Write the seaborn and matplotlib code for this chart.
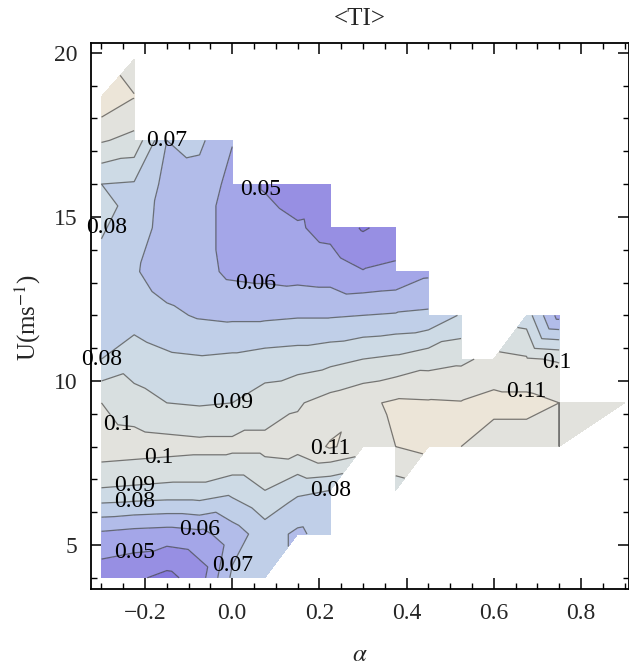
import numpy as np
import matplotlib
matplotlib.use("Agg")
import matplotlib.pyplot as plt
import matplotlib.tri as mtri
from matplotlib.ticker import MultipleLocator
import seaborn as sns

# grid of the averaged turbulence intensity <TI>
# columns: shear exponent alpha, rows: mean wind speed U (m/s)
alpha_values = [-0.3, -0.225, -0.15, -0.075, 0.0, 0.075, 0.15, 0.225, 0.3,
                0.375, 0.45, 0.525, 0.6, 0.675, 0.75, 0.825, 0.9]
u_values = [4.0, 5.333, 6.667, 8.0, 9.333, 10.667, 12.0, 13.333, 14.667,
            16.0, 17.333, 18.667, 19.8]

N = np.nan  # empty bin
ti_u04 = [0.044, 0.042, 0.037, 0.045, 0.072, 0.075, N, N, N, N, N, N, N, N, N, N, N]
ti_u05 = [0.058, 0.056, 0.055, 0.057, 0.065, 0.075, 0.068, 0.075, N, N, N, N, N, N, N, N, N]
ti_u07 = [0.089, 0.088, 0.087, 0.087, 0.083, 0.090, 0.082, 0.080, N, 0.095, N, N, N, N, N, N, N]
ti_u08 = [0.106, 0.105, 0.104, 0.103, 0.103, 0.103, 0.104, 0.111, 0.106, 0.110, 0.113, 0.110,
          0.105, 0.105, 0.110, N, N]
ti_u09 = [0.100, 0.094, 0.090, 0.089, 0.090, 0.095, 0.099, 0.104, 0.108, 0.1115, 0.111, 0.1105,
          0.113, 0.113, 0.110, N, 0.104]
ti_u11 = [0.080, 0.085, 0.082, 0.081, 0.082, 0.084, 0.085, 0.087, 0.090, 0.092, 0.096, 0.098,
          0.103, 0.101, 0.099, N, N]
ti_u12 = [0.077, 0.076, 0.072, 0.069, 0.068, 0.068, 0.069, 0.069, 0.070, 0.071, 0.072, 0.081,
          N, 0.085, 0.056, N, N]
ti_u13 = [0.077, 0.071, 0.065, 0.063, 0.058, 0.057, 0.056, 0.055, 0.0505, 0.052, 0.058,
          N, N, N, N, N, N]
ti_u15 = [0.081, 0.075, 0.066, 0.063, 0.057, 0.054, 0.051, 0.047, 0.039, 0.044,
          N, N, N, N, N, N, N]
ti_u16 = [0.080, 0.079, 0.067, 0.066, 0.057, 0.049, 0.045, 0.046, N, N, N, N, N, N, N, N, N]
ti_u17 = [0.101, 0.097, 0.070, 0.072, 0.0605, N, N, N, N, N, N, N, N, N, N, N, N]
ti_u19 = [0.118, 0.1105, N, N, N, N, N, N, N, N, N, N, N, N, N, N, N]
ti_u20 = [N, 0.104, N, N, N, N, N, N, N, N, N, N, N, N, N, N, N]

# extra sliver joining the far right bin (row, column index pairs)
tip_triangle = [(3, 14), (4, 16), (4, 14)]

contour_levels = [0.03, 0.04, 0.05, 0.06, 0.07, 0.08, 0.09, 0.10, 0.11, 0.12]
band_colors = ["#877bde", "#978fe3", "#a4a6e8", "#b2bce9", "#c0cfe8",
               "#cddae5", "#d8dfe0", "#e2e2dd", "#ece5d8"]

# contour labels: level and approximate (alpha, U) spot
label_levels = [0.07, 0.05, 0.08, 0.06, 0.08, 0.10, 0.11, 0.09, 0.10, 0.11,
                0.10, 0.09, 0.08, 0.06, 0.08, 0.05, 0.07]
label_alpha = [-0.159, 0.041, -0.253, 0.064, -0.280, 0.729, 0.676, -0.005, -0.276, 0.224,
               -0.177, -0.234, -0.234, -0.081, 0.217, -0.234, 0.002]
label_u = [16.95, 15.52, 14.36, 12.56, 10.58, 10.40, 9.51, 9.33, 8.60, 7.99,
           7.65, 7.04, 6.52, 5.98, 6.77, 4.85, 4.24]

sns.set_theme(style="ticks")
plt.rcParams["font.family"] = ["Liberation Serif", "DejaVu Serif"]
plt.rcParams["mathtext.fontset"] = "stix"

ti = np.array([ti_u04, ti_u05, ti_u07, ti_u08, ti_u09, ti_u11, ti_u12,
               ti_u13, ti_u15, ti_u16, ti_u17, ti_u19, ti_u20])
nrow, ncol = ti.shape
A, U = np.meshgrid(alpha_values, u_values)
x, y, z = A.ravel(), U.ravel(), ti.ravel()
valid = np.isfinite(z)

triangles = []
for i in range(nrow - 1):
    for j in range(ncol - 1):
        bl = i * ncol + j
        br, tl = bl + 1, bl + ncol
        tr = tl + 1
        for t in ((bl, br, tr), (bl, tr, tl)):
            if valid[list(t)].all():
                triangles.append(t)
triangles.append(tuple(r * ncol + c for r, c in tip_triangle))

tri = mtri.Triangulation(x, y, triangles)
zf = np.nan_to_num(z, nan=0.0)

fig = plt.figure(figsize=(6.29, 6.66), dpi=100)
ax = fig.add_axes([91 / 629, (666 - 589) / 666, (628.5 - 91) / 629, (589 - 43) / 666])
ax.set_facecolor("white")

ax.set_xlim(-0.324, 0.909)
ax.set_ylim(3.66, 20.3)

ax.tricontourf(tri, zf, levels=contour_levels, colors=band_colors)
lines = ax.tricontour(tri, zf, levels=contour_levels, colors="#3a3a3a",
                      linewidths=0.9, alpha=0.65)

# horizontal level labels placed on the nearest vertex of their own contour
to_px = ax.transData
for lev, a, u in zip(label_levels, label_alpha, label_u):
    k = int(np.argmin(np.abs(np.array(lines.levels) - lev)))
    segs = [s for s in lines.allsegs[k] if len(s)]
    pts = np.vstack(segs)
    d = np.linalg.norm(to_px.transform(pts) - to_px.transform((a, u)), axis=1)
    px, py = pts[int(np.argmin(d))]
    ax.text(px, py, f"{lines.levels[k]:g}", ha="center", va="center",
            fontsize=17, color="black", zorder=5)

ax.xaxis.set_major_locator(MultipleLocator(0.2))
ax.xaxis.set_minor_locator(MultipleLocator(0.05))
ax.yaxis.set_major_locator(MultipleLocator(5))
ax.yaxis.set_minor_locator(MultipleLocator(1))
ax.tick_params(which="both", direction="in", top=True, right=True,
               labeltop=False, labelright=False, color="black")
ax.tick_params(which="major", length=8, width=1.1, labelsize=17, pad=10)
ax.tick_params(which="minor", length=4, width=1.0)
for s in ax.spines.values():
    s.set_color("black")
    s.set_linewidth(1.3)

ax.set_xlabel(r"$\alpha$", fontsize=18)
ax.xaxis.set_label_coords(0.5, -0.1)
ax.set_ylabel(r"U(ms$^{-1}$)", fontsize=18)
ax.yaxis.set_label_coords(-0.09, 0.498)
fig.text(359.5 / 629, 1 - 19 / 666, "<TI>", ha="center", va="center", fontsize=18)

fig.savefig("out.png", dpi=100)
